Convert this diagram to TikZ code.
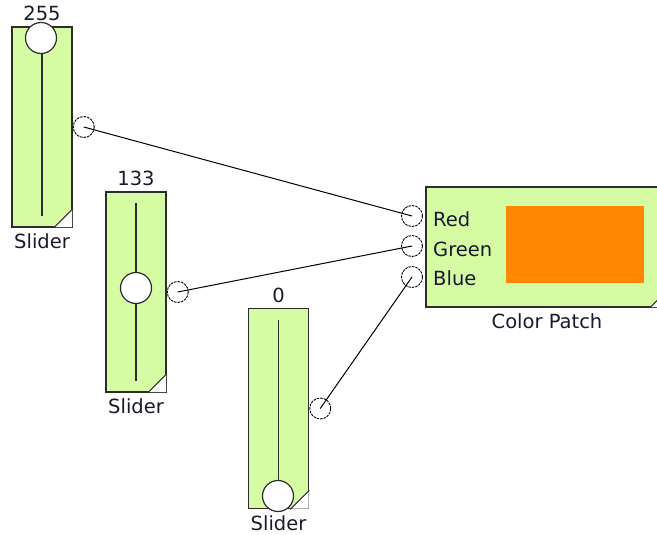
\documentclass[tikz,border=0pt]{standalone}
\usepackage{fontspec}
\setmainfont{DejaVu Sans}
\usetikzlibrary{positioning}
\definecolor{slidergreen}{RGB}{214,252,163}
\definecolor{edgegray}{RGB}{45,45,45}
\definecolor{patchorange}{RGB}{255,136,0}
\definecolor{textdark}{RGB}{25,25,45}
\tikzset{
  sliderbox/.style={draw=edgegray, line width=1.6pt, fill=slidergreen,
    minimum width=60pt, minimum height=200pt, inner sep=0pt},
  patchbox/.style={draw=edgegray, line width=1.6pt, fill=slidergreen,
    minimum width=242pt, minimum height=120pt, inner sep=0pt},
  swatch/.style={fill=patchorange, minimum width=138pt, minimum height=77pt, inner sep=0pt},
  knob/.style={circle, draw=edgegray, line width=1.2pt, fill=white, minimum size=31pt, inner sep=0pt},
  port/.style={circle, draw=black, line width=0.9pt, dash pattern=on 2.5pt off 1pt,
    minimum size=21pt, inner sep=0pt},
  track/.style={draw=edgegray, line width=1.5pt},
  wire/.style={draw=black, line width=1pt},
  caption/.style={font=\fontsize{19.5}{22}\selectfont, text=textdark, inner sep=0pt}
}

\begin{document}
\begin{tikzpicture}[x=1pt, y=-1pt]
\useasboundingbox (0,0) rectangle (657,535);
\clip (0,0) rectangle (657,535);

% sliders
\node[sliderbox] (s1) at (42,127) {};
\node[sliderbox] (s2) at (136,292) {};
\node[sliderbox] (s3) at (278.5,408.5) {};

\node[caption, above=5pt of s1] (v1) {255};
\node[caption, above=5pt of s2] (v2) {133};
\node[caption, above=5pt of s3] (v3) {0};
\node[caption, below=6pt of s1] (c1) {Slider};
\node[caption, below=6pt of s2] (c2) {Slider};
\node[caption, below=6pt of s3] (c3) {Slider};

\foreach \s in {s1,s2,s3}{
  \fill[white] ([shift={(-0.8,-0.8)}]\s.south east) -- ++(-18,0) -- ++(18,-18) -- cycle;
  \draw[edgegray, line width=1.2pt] ([xshift=-19pt]\s.south east) -- ([yshift=19pt]\s.south east);
  \draw[track] ([yshift=-12pt]\s.north) -- ([yshift=12pt]\s.south);
}

\node[knob] (k1) at (41,38) {};
\node[knob] (k2) at (136,288) {};
\node[knob] (k3) at (278,496) {};

\node[port, right=0pt of s1] (o1) {};
\node[port, right=0pt of s2] (o2) {};
\node[port, right=0pt of s3] (o3) {};

% color patch
\node[patchbox] (cp) at (547,247) {};
\node[swatch, anchor=north west] (sw) at (506,206) {};
\node[caption, below=6pt of cp] (cpl) {Color Patch};
\fill[white] ([shift={(-0.8,-0.8)}]cp.south east) -- ++(-18,0) -- ++(18,-18) -- cycle;
\draw[edgegray, line width=1.2pt] ([xshift=-19pt]cp.south east) -- ([yshift=19pt]cp.south east);

\node[port] (ir) at (412,216) {};
\node[port] (ig) at (412,246) {};
\node[port] (ib) at (412,277) {};
\node[caption, anchor=base west] (lr) at (433,226) {Red};
\node[caption, anchor=base west] (lg) at (433,256) {Green};
\node[caption, anchor=base west] (lb) at (433,285) {Blue};

\draw[wire] (o1.center) -- (ir.center);
\draw[wire] (o2.center) -- (ig.center);
\draw[wire] (o3.center) -- (ib.center);
\end{tikzpicture}
\end{document}
